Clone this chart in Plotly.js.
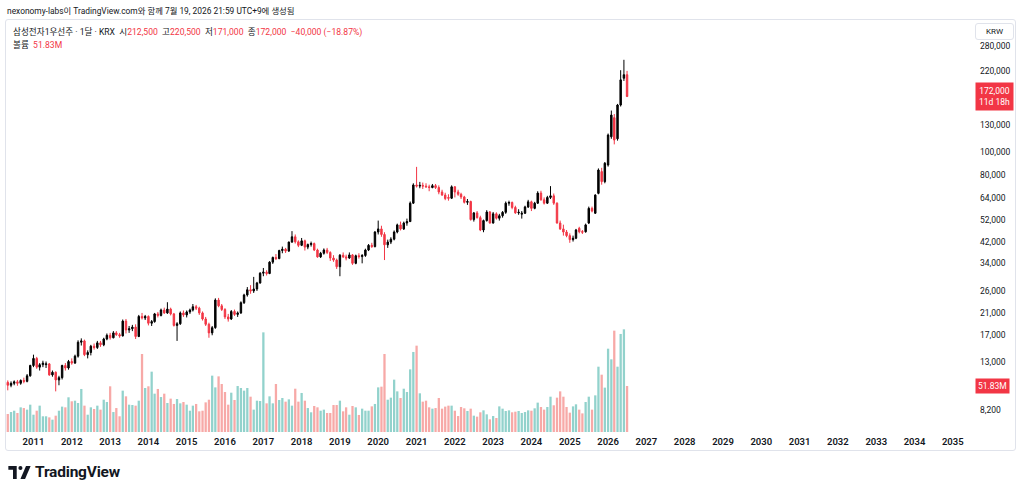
<!DOCTYPE html>
<html>
<head>
<meta charset="utf-8">
<script src="https://cdn.plot.ly/plotly-3.0.1.min.js"></script>
<style>
  html, body { margin:0; padding:0; background:#ffffff; width:1024px; height:495px; overflow:hidden; }
  body { font-family: Roboto, "Noto Sans CJK KR", "Noto Sans", sans-serif; color:#131722; }
  #frame { position:absolute; left:5px; top:19px; width:1011px; height:432px; border:1px solid #e0e3eb; border-radius:3px; box-sizing:border-box; }
  #chart { position:absolute; left:0; top:0; width:1024px; height:495px; }
  .ov { position:absolute; white-space:nowrap; pointer-events:none; }
  #header { left:7px; top:4px; font-size:8.4px; color:#131722; }
  #legend1 { left:13px; top:25px; font-size:8.6px; color:#131722; }
  #legend2 { left:13px; top:38px; font-size:8.6px; color:#131722; }
  .red { color:#f23645; }
  #krw { left:975px; top:23px; width:37px; height:15px; border:1px solid #e0e3eb; border-radius:3px; font-size:8px; line-height:15px; text-align:center; color:#131722; background:#fff; }
  #logo { left:8px; top:466px; }
  #brand { left:35px; top:463px; font-size:15.5px; font-weight:700; color:#131722; letter-spacing:-0.2px; }
</style>
</head>
<body>
<div id="frame"></div>
<div id="chart"></div>
<div class="ov" id="header">nexonomy-labs이 TradingView.com와 함께 7월 19, 2026 21:59 UTC+9에 생성됨</div>
<div class="ov" id="legend1">삼성전자1우선주 · 1달 · KRX&nbsp;&nbsp;시<span class="red">212,500</span>&nbsp;&nbsp;고<span class="red">220,500</span>&nbsp;&nbsp;저<span class="red">171,000</span>&nbsp;&nbsp;종<span class="red">172,000</span>&nbsp;&nbsp;<span class="red">−40,000 (−18.87%)</span></div>
<div class="ov" id="legend2">볼륨&nbsp;&nbsp;<span class="red">51.83M</span></div>
<div class="ov" id="krw">KRW</div>
<svg class="ov" id="logo" width="23" height="13" viewBox="0 0 24 14">
  <path d="M0 0 H9 V14 H5 V4 H0 Z" fill="#131722"/>
  <circle cx="13" cy="2.2" r="2.2" fill="#131722"/>
  <path d="M19 0 H24 L18 14 H13 Z" fill="#131722"/>
</svg>
<div class="ov" id="brand">TradingView</div>
<script>
// ---- data (monthly, first candle May 2010) ----
const startYear = 2010;
const startMonth = 5;

const openPrices = [
  10700,10400,10600,10750,10600,10900,10800,11400,
  12600,13500,12400,12700,12700,12800,11500,11800,10950,11200,12600,12300,
  13100,12900,13800,15800,16000,14000,14300,15200,15000,15700,15400,16300,
  16900,16500,17300,17000,16800,19400,17800,18000,18300,16700,20300,20000,
  20300,19000,19300,20800,20500,21600,21000,21800,20800,18600,18900,21000,
  20600,21200,21600,22300,22000,21000,19800,18800,17300,18200,23800,22500,
  21700,20200,19800,21300,20700,21000,23200,25000,26300,26000,26500,28100,
  30900,31200,30800,34400,36000,35600,38500,39000,38300,41800,44000,41900,
  40500,42300,39800,40800,41200,38700,36200,37500,38700,37800,35800,35100,
  32900,36800,36200,35800,36900,34000,36600,36300,36700,38700,40500,40000,
  46100,47500,45000,40700,41800,43000,46100,49400,47500,50300,51000,61000,
  72800,72000,72500,72000,71500,71000,72300,71000,68000,66000,64500,64000,
  71500,68000,66500,64800,61500,62000,52000,55500,53000,47000,51500,56000,
  50300,55000,52700,54000,55800,61000,61400,58500,55500,54800,55300,58800,
  61800,58000,61000,67300,63000,61000,64500,65500,61000,50300,47500,46100,
  44500,42800,43400,47800,46300,46200,50300,58000,55300,67100,82900,75200,
  88400,116300,140000,114000,158300,205400,212500
];
const highPrices = [
  10900,10800,10900,10950,11000,11200,11600,12700,
  14000,13700,12900,13200,13100,12900,12000,11900,11400,12700,12900,13300,
  13500,14000,16100,16400,16200,14600,15400,15600,16000,16000,16500,17200,
  17300,17600,17600,17300,19700,19800,18500,18700,18800,20600,21000,20600,
  20500,19600,21000,21200,21900,22100,23300,22100,21000,19200,21300,21500,
  21500,21900,22900,22700,22300,21300,20200,19100,18500,24200,24300,22900,
  22000,20800,21600,21700,21300,23500,25300,27000,27500,29800,28400,31200,
  32500,31800,34700,36300,37200,38800,40000,39500,42000,46500,45000,42500,
  43500,42800,41200,42000,41600,39200,38000,39300,39500,38200,36800,35600,
  37200,37800,37000,37800,37200,37000,37500,37200,39200,41000,41500,46500,
  51500,49000,46000,42800,43800,46800,50000,51000,51000,52500,62000,74000,
  86800,75000,74500,74000,73000,73500,73500,72500,69500,67500,66500,72500,
  72000,69500,67500,65500,63500,62500,56000,56500,54000,52000,57000,56500,
  56000,55800,55000,56500,62000,62500,62000,59500,57500,56500,59500,63000,
  62500,61800,68500,68800,64500,65500,72000,67000,61500,51500,49500,47000,
  45500,44500,47500,48500,47000,50000,59000,59000,66500,85500,86000,91000,
  120000,150000,145000,160000,222000,245600,220500
];
const lowPrices = [
  9900,10200,10400,10350,10450,10600,10700,11300,
  12400,12200,12000,12400,12300,11400,11300,9800,10400,11000,12000,12100,
  12700,12800,13600,15300,13800,13500,13900,14700,14800,15100,15200,16100,
  16200,16400,16800,16500,16700,17200,17300,17600,16300,16600,19700,19600,
  18600,18500,19100,20100,20300,20800,20800,20500,18400,16000,18700,20200,
  20100,20800,21300,21600,20600,19500,18500,16500,16900,18000,22200,21400,
  19800,19300,19600,20400,20200,20800,22900,24600,25300,25500,26000,27900,
  30000,30200,30600,33800,35100,35400,37500,37600,38000,41500,41200,39800,
  40200,38500,39000,40000,38300,35900,35800,37000,37200,34800,34500,32200,
  30000,35800,35000,35500,33500,33700,35600,34000,36200,38300,39500,39700,
  45000,44000,35100,39500,41000,42500,45500,46800,47000,49000,50800,60500,
  71000,70500,70000,70800,68500,70500,70000,66500,65500,62800,62500,63500,
  64500,65500,63500,60800,60000,51500,51000,52500,46500,46000,51000,50000,
  50000,52000,51500,53000,55000,59500,57500,55000,54500,52500,55000,58200,
  56500,57500,60500,62500,60200,60500,63500,60000,50000,47000,44500,43800,
  41500,42000,43000,45500,45200,45800,49800,55800,55000,66500,73000,74000,
  87000,114000,108000,112000,156000,200000,171000
];
const closePrices = [
  10400,10600,10750,10600,10900,10800,11400,12600,
  13500,12400,12700,12900,12800,11500,11800,10950,11200,12600,12300,13100,
  12900,13800,15800,16000,14000,14300,15200,15000,15700,15400,16300,16900,
  16500,17300,17000,16800,19400,17800,18000,18300,16700,20300,20000,20300,
  19000,19300,20800,20500,21600,21000,21800,20800,18600,18900,21000,20600,
  21200,21600,22300,22000,21000,19800,18800,17300,18200,23800,22500,21700,
  20200,19800,21300,20700,21000,23200,25000,26300,26000,26500,28100,30900,
  31200,30800,34400,36000,35600,38500,39000,38300,41800,44000,41900,40500,
  42300,39800,40800,41200,38700,36200,37500,38700,37800,35800,35100,32900,
  36800,36200,35800,36900,34000,36600,36300,36700,38700,40500,40000,46100,
  47500,45000,40700,41800,43000,46100,49400,47500,50300,51000,61000,72800,
  72000,72500,72000,71500,71000,72300,71000,68000,66000,63800,64000,71500,
  68000,66500,64800,61500,62000,52000,55500,53000,47000,51500,56000,50300,
  55000,52700,54000,55800,61000,61400,58500,55500,55800,55300,58800,61800,
  58000,61000,67300,63000,61000,64500,65500,61000,50300,47500,46100,44500,
  42800,43400,47000,46200,46000,49400,58000,56500,66000,84200,75200,89900,
  118300,143600,112700,158300,202100,212500,172000
];
// volume in millions of shares
const volumeM = [
  20.3,22.5,24.0,21.4,27.8,27.0,25.2,30.8,
  19.5,24.0,29.7,17.7,17.7,16.5,13.9,18.4,24.0,28.6,27.8,39.1,
  34.6,35.3,32.7,48.5,29.7,19.5,27.8,25.9,29.7,25.2,36.4,33.8,
  51.5,22.5,27.0,17.7,46.6,40.2,30.8,30.4,29.7,35.3,87.9,49.6,
  51.5,68.0,43.2,48.5,39.4,43.2,32.7,37.6,31.6,37.2,32.3,33.8,
  30.8,24.0,29.7,31.6,23.3,24.0,33.4,36.4,63.5,50.3,62.7,54.1,
  45.1,30.8,44.3,36.1,51.8,49.6,46.6,49.6,39.8,25.2,35.3,34.9,
  112.3,32.3,40.2,32.3,54.1,36.1,38.3,34.2,36.8,29.7,48.8,34.2,
  44.0,35.3,27.0,22.2,29.3,27.8,24.0,25.2,21.4,21.4,30.4,30.4,
  35.3,23.3,27.8,19.5,29.3,27.8,19.2,26.3,24.0,24.0,28.9,31.6,
  50.3,51.1,87.9,36.4,38.7,59.0,45.8,38.3,48.8,45.1,70.6,90.2,
  97.3,43.6,34.2,35.3,27.8,26.3,27.0,38.3,26.3,28.6,29.7,29.7,
  24.0,18.0,28.2,26.7,23.7,26.3,18.4,17.3,22.2,24.4,19.9,14.3,
  18.0,15.8,28.9,26.3,23.7,24.4,22.2,22.9,23.7,21.4,22.5,24.4,
  24.0,26.7,33.1,28.2,25.2,28.2,39.8,30.1,38.7,45.8,39.8,28.2,
  21.8,28.9,31.2,25.2,21.0,33.8,39.8,25.2,41.3,73.6,64.6,50.0,
  93.9,81.9,114.2,73.6,110.5,115.7,51.83
];
const priceTicks = [8200, 13000, 17000, 21000, 26000, 34000, 42000, 52000, 64000, 80000, 100000, 130000, 220000, 280000];
const lastTimer = "11d 18h";

// ---- build ----
const months = closePrices.map((_, i) => {
  const m0 = startMonth - 1 + i;
  const y = startYear + Math.floor(m0 / 12);
  const m = (m0 % 12) + 1;
  return y + "-" + String(m).padStart(2, "0") + "-01";
});
const UP = "#000000", DOWN = "#f23645";
const VUP = "#92d2cc", VDOWN = "#f7a9a7";
const volColors = closePrices.map((c, i) => c >= openPrices[i] ? VUP : VDOWN);
const fmt = v => v.toLocaleString("en-US");

const lastClose = closePrices[closePrices.length - 1];
const lastVol = volumeM[volumeM.length - 1];
const lastColor = lastClose >= openPrices[openPrices.length - 1] ? UP : DOWN;

const volTrace = {
  type: "bar", x: months, y: volumeM, xaxis: "x", yaxis: "y",
  marker: { color: volColors, line: { width: 0 } },
  hoverinfo: "skip"
};
const candleTrace = {
  type: "candlestick", x: months,
  open: openPrices, high: highPrices, low: lowPrices, close: closePrices,
  xaxis: "x", yaxis: "y2",
  increasing: { line: { color: UP, width: 1 }, fillcolor: UP },
  decreasing: { line: { color: DOWN, width: 1 }, fillcolor: DOWN },
  whiskerwidth: 0,
  hoverinfo: "skip"
};

const layout = {
  width: 1024, height: 495,
  margin: { l: 6, r: 54, t: 20, b: 63 },
  paper_bgcolor: "rgba(0,0,0,0)", plot_bgcolor: "rgba(0,0,0,0)",
  showlegend: false,
  bargap: 0.22,
  font: { family: "Roboto, 'Noto Sans CJK KR', sans-serif", color: "#131722" },
  xaxis: {
    type: "date", range: ["2010-04-14", "2035-06-14"],
    tickformat: "%Y", dtick: "M12", tick0: "2011-01-01",
    showgrid: false, zeroline: false, showline: false, ticks: "",
    ticklabelstandoff: 2,
    tickfont: { size: 9.5, color: "#131722", weight: 600 },
    rangeslider: { visible: false }, fixedrange: true
  },
  yaxis: {
    range: [0, 464.3], visible: false, fixedrange: true, showgrid: false, zeroline: false
  },
  yaxis2: {
    type: "log", overlaying: "y", side: "right", anchor: "x",
    range: [3.8198, 5.5582],
    tickvals: priceTicks, ticktext: priceTicks.map(fmt),
    showgrid: false, zeroline: false, showline: false, ticks: "",
    ticklabelstandoff: 9,
    tickfont: { size: 8.5, color: "#131722" }, fixedrange: true
  },
  shapes: [{
    type: "line", xref: "paper", x0: 0, x1: 1, yref: "y2",
    y0: Math.log10(lastClose), y1: Math.log10(lastClose),
    line: { color: lastColor, width: 1, dash: "dot" }
  }],
  annotations: [
    {
      xref: "paper", x: 1.0052, xanchor: "left",
      yref: "y2", y: Math.log10(lastClose), yanchor: "middle",
      text: fmt(lastClose) + "<br>" + lastTimer, showarrow: false,
      font: { size: 8.5, color: "#ffffff" }, bgcolor: lastColor, borderpad: 3, align: "center"
    },
    {
      xref: "paper", x: 1.0052, xanchor: "left",
      yref: "y", y: lastVol, yanchor: "middle",
      text: lastVol.toFixed(2) + "M", showarrow: false,
      font: { size: 8.5, color: "#ffffff" }, bgcolor: lastColor, borderpad: 2
    }
  ]
};

Plotly.newPlot("chart", [volTrace, candleTrace], layout, { staticPlot: true, displayModeBar: false });
</script>
</body>
</html>
